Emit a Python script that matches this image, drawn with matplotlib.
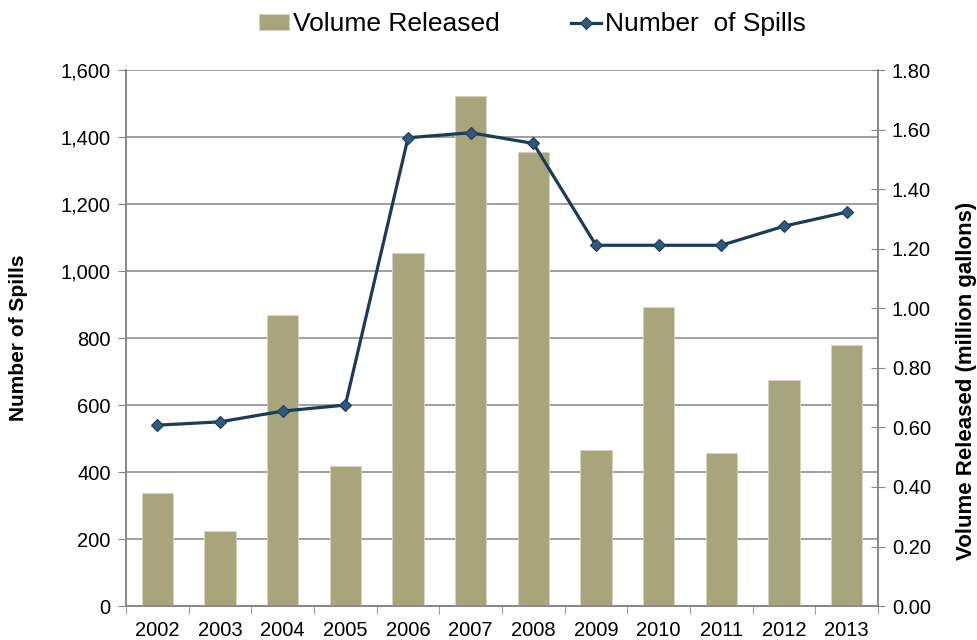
import matplotlib.pyplot as plt
import numpy as np
from matplotlib.ticker import FuncFormatter, MultipleLocator, FixedLocator

plt.rcParams['font.family'] = ['Liberation Sans', 'DejaVu Sans']

years = ['2002', '2003', '2004', '2005', '2006', '2007',
         '2008', '2009', '2010', '2011', '2012', '2013']
# million gallons
volume = [0.38, 0.253, 0.978, 0.472, 1.186, 1.712,
          1.525, 0.523, 1.003, 0.515, 0.758, 0.876]
spills = [540, 550, 582, 600, 1398, 1413,
          1381, 1077, 1077, 1077, 1134, 1176]

bar_col = '#A8A57D'
line_col = '#1C3B56'
grid_col = '#868686'

fig = plt.figure(figsize=(9.77, 6.4), dpi=100)
# bottom layer: spills scale, grid + left ticks
ax = fig.add_axes([0.129, 0.053, 0.7697, 0.8375])
# middle: volume scale, bars + right ticks
ax2 = ax.twinx()
# top: spills scale again, only the line
ax3 = ax.twinx()

x = np.arange(len(years))

ax.set_ylim(0, 1600)
ax.yaxis.set_major_locator(MultipleLocator(200))
ax.yaxis.set_major_formatter(FuncFormatter(lambda v, p: f'{int(v):,}'))
ax.grid(axis='y', color=grid_col, linewidth=1.1)
ax.set_axisbelow(True)

ax2.bar(x, volume, width=0.5, color=bar_col, edgecolor='#D6D4BE', linewidth=0.6,
        label='Volume Released')
ax2.set_ylim(0, 1.8)
ax2.yaxis.set_major_locator(MultipleLocator(0.2))
ax2.yaxis.set_major_formatter(FuncFormatter(lambda v, p: f'{v:.2f}'))

ax3.plot(x, spills, color=line_col, linewidth=2.3, marker='D', markersize=6,
         markerfacecolor='#2F5A7E', markeredgecolor=line_col, markeredgewidth=0.8,
         label='Number  of Spills')
ax3.set_ylim(0, 1600)
ax3.axis('off')

ax.set_xlim(-0.5, len(years) - 0.5)
ax.set_xticks(x)
ax.set_xticklabels(years)
ax.xaxis.set_minor_locator(FixedLocator(np.arange(-0.5, len(years), 1.0)))
ax.tick_params(axis='x', which='major', length=0, labelsize=14.5, pad=11)
ax.tick_params(axis='x', which='minor', length=6, color=grid_col, direction='out')
ax.tick_params(axis='y', length=6, color=grid_col, direction='out', labelsize=14.5, pad=5)
ax2.tick_params(axis='y', length=10, color=grid_col, direction='inout', labelsize=14.5, pad=5)

for a in (ax, ax2):
    a.spines['top'].set_visible(False)
    for s in ('left', 'right', 'bottom'):
        a.spines[s].set_color(grid_col)
        a.spines[s].set_linewidth(1.1)

ax.set_ylabel('Number of Spills', fontsize=15, fontweight='bold')
ax.yaxis.set_label_coords(-0.131, 0.5)
ax2.set_ylabel('Volume Released (million gallons)', fontsize=16, fontweight='bold')
ax2.yaxis.set_label_coords(1.104, 0.42)

h2, l2 = ax2.get_legend_handles_labels()
h3, l3 = ax3.get_legend_handles_labels()
fig.legend(h2 + h3, l2 + l3, loc='center', bbox_to_anchor=(0.545, 0.962), ncol=2,
           frameon=False, fontsize=19, handlelength=1.15, handleheight=0.55,
           handletextpad=0.15, columnspacing=2.7, borderpad=0, borderaxespad=0)

fig.savefig('out.png', dpi=100)
